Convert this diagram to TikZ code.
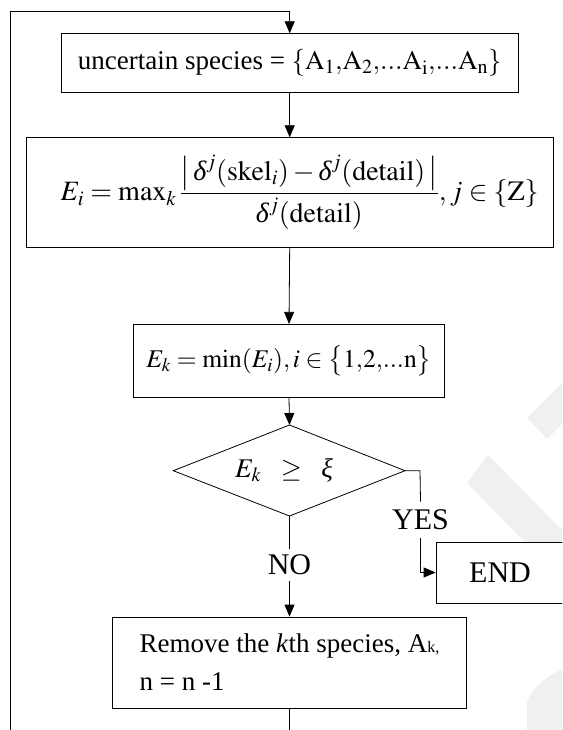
\documentclass[tikz,border=0pt]{standalone}
\usepackage{mathptmx}
\usepackage{fontspec}
\setmainfont{Liberation Serif}
\usetikzlibrary{arrows.meta}
\newcommand{\itdelta}{\mbox{\itshape δ}}
\newcommand{\itxi}{\mbox{\itshape ξ}}
\begin{document}
\begin{tikzpicture}[x=1pt,y=-1pt, line width=0.8pt,
  box/.style={draw, fill=white, inner sep=0pt, align=center, font=\fontsize{27}{32}\selectfont},
  lbl/.style={inner sep=6pt, font=\fontsize{30}{34}\selectfont},
  arr/.style={-{Triangle[length=12pt,width=10pt]}},
  wm/.style={fill=black!6, draw=none}]
\clip (0,0) rectangle (562,730);
\fill[white] (0,0) rectangle (562,730);
% faint watermark bands
\path[wm] (527,418) -- (565,380) -- (565,421) -- (547,439) -- cycle;
\path[wm] (467,483) -- (488,455) -- (565,533) -- (565,583) -- cycle;
\path[wm] (527,731) -- (527,702) .. controls (532,688) and (546,676) .. (565,668) -- (565,731) -- cycle;
% boxes
\node[box, minimum width=457.3pt, minimum height=59pt] (b1) at (289.7,63.2)
  {uncertain species = $\{\mathrm{A}_1{,}\mathrm{A}_2{,}...\mathrm{A}_\mathrm{i}{,}...\mathrm{A}_\mathrm{n}\}$};
\node[box, minimum width=527.3pt, minimum height=109.6pt, font=\fontsize{28}{32}\selectfont] (b2) at (289.7,192.5)
  {\hspace*{20pt}$\displaystyle E_i = \max\nolimits_k \frac{\left|\,\itdelta^j(\mathrm{skel}_i) - \itdelta^j(\mathrm{detail})\,\right|}{\itdelta^j(\mathrm{detail})}, j \in \{\mathrm{Z}\}$};
\node[box, minimum width=310.6pt, minimum height=73pt, font=\fontsize{25.5}{30}\selectfont] (b3) at (289,360.8)
  {$E_k = \min(E_i), i \in \bigl\{1{,}2{,}...\mathrm{n}\bigr\}$};
% diamond
\coordinate (dt) at (289.5,425);
\coordinate (dl) at (173.3,470.7);
\coordinate (dr) at (405,470.7);
\coordinate (db) at (289.5,516);
\draw (dt) -- (dr) -- (db) -- (dl) -- cycle;
\node[font=\fontsize{27}{32}\selectfont] (dtxt) at (284,470) {$E_k\ \ \ge\ \ \itxi$};
% labels
\node[lbl] (no) at (289.5,565) {NO};
\node[lbl, inner ysep=8pt] (yes) at (420.5,520) {YES};
\node[draw, fill=white, inner sep=0pt, minimum width=128pt, minimum height=61pt, font=\fontsize{30}{34}\selectfont] (end) at (500,572.5) {END};
\node[box, align=left, inner sep=0pt, minimum width=354.4pt, minimum height=91pt,
      font=\fontsize{27}{38}\selectfont] (b5) at (289.5,662.5)
  {Remove the \textit{k}th species, A{\fontsize{16}{16}\selectfont k,}\\ n = n -1};
% loop coordinates
\coordinate (ycor) at (420,470.7);
\coordinate (bl) at (289.5,731);
\coordinate (loopL) at (10.5,731);
\coordinate (tl) at (10.5,11);
% connectors
\draw[arr] (b1.south) -- (b2.north);
\draw[arr] (b2.south) -- (b3.north);
\draw[arr] (b3.south) -- (dt);
\draw (db) -- (no.north);
\draw[arr] (no.south) -- (b5.north);
\draw (dr) -- (ycor) -- (yes.north);
\draw[arr] (yes.south) |- (end.west);
\draw (b5.south) -- (bl);
\draw[arr] (loopL) -- (tl) -| (b1.north);
\end{tikzpicture}
\end{document}
